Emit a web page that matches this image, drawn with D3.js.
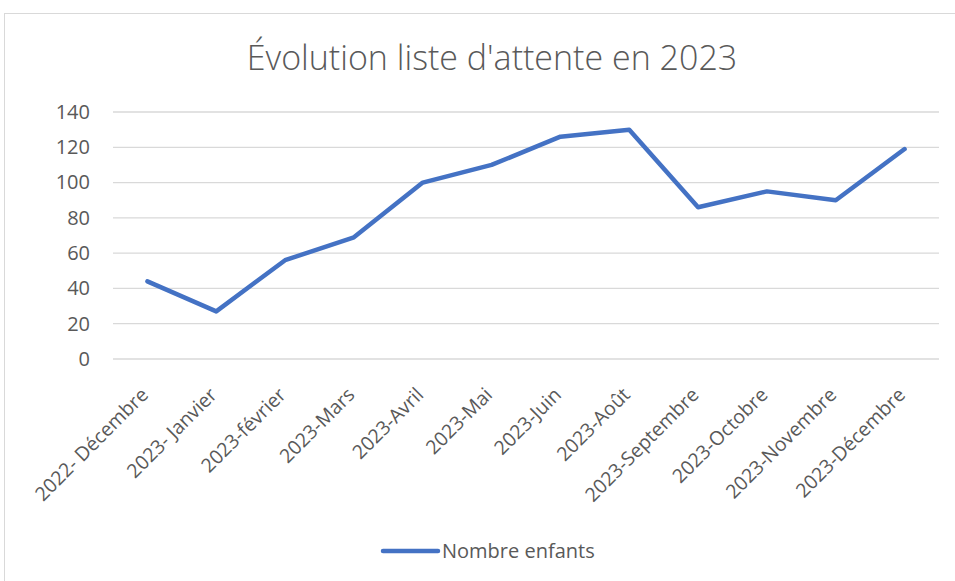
<!DOCTYPE html>
<html>
<head>
<meta charset="utf-8">
<script src="https://cdn.jsdelivr.net/npm/d3@7"></script>
<style>
  body { margin: 0; background: #fff; }
  text { font-family: "Open Sans", "Noto Sans", sans-serif; fill: #595959; }
</style>
</head>
<body>
<div class="chart"></div>
<script>
// data
var months = ["2022- Décembre", "2023- Janvier", "2023-février", "2023-Mars", "2023-Avril", "2023-Mai",
              "2023-Juin", "2023-Août", "2023-Septembre", "2023-Octobre", "2023-Novembre", "2023-Décembre"];
var enfants = [44, 27, 56, 69, 100, 110, 126, 130, 86, 95, 90, 119];
var yTicks = [0, 20, 40, 60, 80, 100, 120, 140];
var seriesName = "Nombre enfants";
var title = "Évolution liste d'attente en 2023";

var svgWidth = 955, svgHeight = 581;
var chartMargin = { top: 112, left: 113, right: 16, bottom: 222 };
var chartWidth = svgWidth - chartMargin.left - chartMargin.right;
var chartHeight = svgHeight - chartMargin.top - chartMargin.bottom;

var svg = d3.select(".chart").append("svg")
    .attr("width", svgWidth)
    .attr("height", svgHeight);

// outer chart border
svg.append("rect")
    .attr("x", 4.5).attr("y", 13.5)
    .attr("width", 1000).attr("height", 700)
    .attr("fill", "none")
    .attr("stroke", "#d9d9d9");

svg.append("text")
    .attr("x", 492).attr("y", 70)
    .attr("text-anchor", "middle")
    .style("font-size", "34px")
    .style("font-weight", 300)
    .text(title);

var chartGroup = svg.append("g")
    .attr("transform", `translate(${chartMargin.left}, ${chartMargin.top})`);

var xScale = d3.scaleBand()
    .domain(months)
    .range([0, chartWidth]);

var yScale = d3.scaleLinear()
    .domain([0, 140])
    .range([chartHeight, 0]);

// gridlines
chartGroup.append("g")
    .selectAll("line")
    .data(yTicks)
    .enter()
    .append("line")
    .attr("x1", 0).attr("x2", chartWidth)
    .attr("y1", d => yScale(d)).attr("y2", d => yScale(d))
    .attr("stroke", "#d9d9d9")
    .attr("stroke-width", 1.3);

// y axis
var yAxis = d3.axisLeft(yScale).tickValues(yTicks).tickSize(0).tickPadding(23);
var yG = chartGroup.append("g").call(yAxis);
yG.select(".domain").remove();
yG.selectAll("text").style("font-size", "20px").style("fill", "#595959");

// x axis labels
var xAxis = d3.axisBottom(xScale).tickSize(0).tickPadding(0);
var xG = chartGroup.append("g")
    .attr("transform", `translate(0, ${chartHeight})`)
    .call(xAxis);
xG.select(".domain").remove();
xG.selectAll("text")
    .style("font-size", "19.5px")
    .style("fill", "#595959")
    .attr("text-anchor", "end")
    .attr("dy", null)
    .attr("y", 0)
    .attr("transform", "translate(2, 37) rotate(-45)");

// line
var line = d3.line()
    .x((d, i) => xScale(months[i]) + xScale.bandwidth() / 2)
    .y(d => yScale(d));

chartGroup.append("path")
    .datum(enfants)
    .attr("d", line)
    .attr("fill", "none")
    .attr("stroke", "#4472c4")
    .attr("stroke-width", 4.5)
    .attr("stroke-linejoin", "round")
    .attr("stroke-linecap", "round");

// legend
var legend = svg.append("g").attr("transform", "translate(383, 551)");
legend.append("line")
    .attr("x1", 0).attr("x2", 55)
    .attr("stroke", "#4472c4")
    .attr("stroke-width", 4.5)
    .attr("stroke-linecap", "round");
legend.append("text")
    .attr("x", 59).attr("y", 7)
    .style("font-size", "20px")
    .text(seriesName);
</script>
</body>
</html>
